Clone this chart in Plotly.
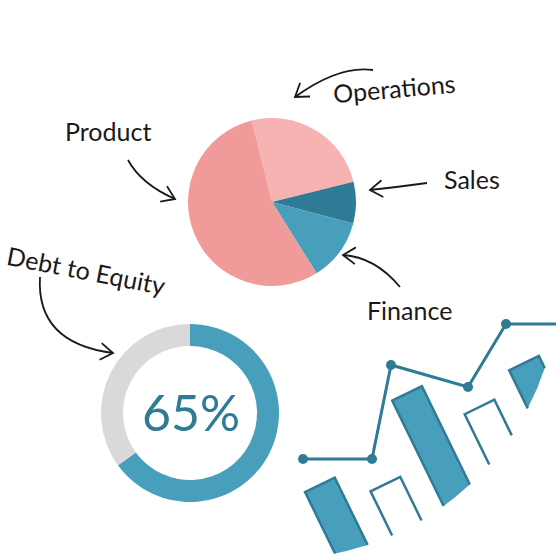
import numpy as np
import plotly.graph_objects as go

# ---------------- data ----------------
pie_labels = ["Operations", "Sales", "Finance", "Product"]
pie_values = [25, 8, 12, 55]
pie_colors = ["#F7B2B2", "#2F7B95", "#479FBB", "#F09B9A"]

donut_labels = ["Debt", "Equity"]
donut_values = [65, 35]
donut_colors = ["#479FBB", "#D9D9D9"]
donut_text = "65%"

line_x = [0, 6.9, 8.8, 16.5, 20.3, 30]
line_y = [0, 0, 9.4, 7.2, 13.5, 13.5]

bar_values = [4.2, 2.8, 6.4, 4.2, 5.2]
bar_filled = [True, False, True, False, True]

DARK = "#2F7B95"
MID = "#479FBB"
INK = "#1a1a1a"
FONT = "Lato"

W = H = 560

fig = go.Figure()

# ---------------- pie ----------------
def dom(cx, cy, r):
    return dict(x=[(cx - r) / W, (cx + r) / W], y=[1 - (cy + r) / H, 1 - (cy - r) / H])

fig.add_trace(go.Pie(
    labels=pie_labels, values=pie_values, sort=False, direction="clockwise",
    rotation=-14, marker=dict(colors=pie_colors, line=dict(width=0)),
    textinfo="none", hoverinfo="label+percent", domain=dom(272, 202, 84),
    showlegend=False))

fig.add_trace(go.Pie(
    labels=donut_labels, values=donut_values, sort=False, direction="clockwise",
    rotation=0, hole=0.753, marker=dict(colors=donut_colors, line=dict(width=0)),
    textinfo="none", hoverinfo="label+percent", domain=dom(190, 413, 89),
    showlegend=False))

# ---------------- line (own axes) ----------------
fig.add_trace(go.Scatter(
    x=line_x, y=line_y, mode="lines", line=dict(color=DARK, width=3),
    xaxis="x", yaxis="y", showlegend=False, hoverinfo="skip"))
fig.add_trace(go.Scatter(
    x=line_x[:-1], y=line_y[:-1], mode="markers",
    marker=dict(color=DARK, size=10), xaxis="x", yaxis="y", showlegend=False))

# ---------------- tilted bars (rotated frame, clipped by circle) ----------------
theta = np.deg2rad(26)
c, s = np.cos(theta), np.sin(theta)
CX, CY, R = 280.0, 280.0, 279.0


def to_px(a, b):
    return (c * a - s * b, -s * a - c * b)


def hit(p):
    d = np.array([s, c])
    p = np.array(p) - np.array([CX, CY])
    A = d @ d
    B = 2 * p @ d
    C = p @ p - R * R
    t = (-B + np.sqrt(B * B - 4 * A * C)) / (2 * A)
    q = p + t * d
    return q[0] + CX, q[1] + CY


for i, (v, filled) in enumerate(zip(bar_values, bar_filled)):
    a0 = 58.5 + 59.2 * i
    a1 = a0 + 33
    b = -660 + 20 * v
    tl = to_px(a0, b)
    tr = to_px(a1, b)
    hl = hit(tl)
    hr = hit(tr)
    if filled:
        phr = np.arctan2(hr[1] - CY, hr[0] - CX)
        phl = np.arctan2(hl[1] - CY, hl[0] - CX)
        ang = np.linspace(phr, phl, 20)
        xs = [tl[0], tr[0], hr[0]] + list(CX + R * np.cos(ang)) + [hl[0], tl[0]]
        ys = [tl[1], tr[1], hr[1]] + list(CY + R * np.sin(ang)) + [hl[1], tl[1]]
        fig.add_trace(go.Scatter(x=xs, y=ys, fill="toself", fillcolor=MID,
                                 mode="lines", line=dict(width=0, color=MID),
                                 xaxis="x2", yaxis="y2", showlegend=False,
                                 hoverinfo="skip"))
    fig.add_trace(go.Scatter(
        x=[hl[0], tl[0], tr[0], hr[0]], y=[hl[1], tl[1], tr[1], hr[1]],
        mode="lines", line=dict(width=2.5, color=DARK),
        xaxis="x2", yaxis="y2", showlegend=False, hoverinfo="skip"))

# ---------------- arrows ----------------
arrows = [
    ((128, 160), (141, 184), (175, 199)),   # Product
    ((373, 70), (339, 65), (295, 97)),      # Operations
    ((427, 183), (398, 187), (370, 190)),   # Sales
    ((400, 287), (375, 257), (343, 255)),   # Finance
    ((40, 277), (36, 343), (113, 353)),     # Debt to Equity
]
shapes = []
for S, Q, E in arrows:
    shapes.append(dict(type="path", xref="x2", yref="y2",
                       path=f"M {S[0]},{S[1]} Q {Q[0]},{Q[1]} {E[0]},{E[1]}",
                       line=dict(color=INK, width=1.8)))
    d = np.array(Q, float) - np.array(E, float)
    d /= np.linalg.norm(d)
    arms = []
    for ang in (np.deg2rad(34), -np.deg2rad(34)):
        rot = np.array([d[0] * np.cos(ang) - d[1] * np.sin(ang),
                        d[0] * np.sin(ang) + d[1] * np.cos(ang)])
        arms.append(np.array(E) + 15 * rot)
    shapes.append(dict(type="path", xref="x2", yref="y2",
                       path=f"M {arms[0][0]:.1f},{arms[0][1]:.1f} L {E[0]},{E[1]} L {arms[1][0]:.1f},{arms[1][1]:.1f}",
                       line=dict(color=INK, width=1.8)))

# ---------------- labels ----------------
labels = [
    ("Product", 108, 131, 0),
    ("Operations", 394, 88, -5),
    ("Sales", 472, 179, 0),
    ("Finance", 409, 310, 0),
    ("Debt to Equity", 86, 270, 11),
]
annotations = []
for t, x, y, a in labels:
    annotations.append(dict(text=t, x=x, y=y, xref="x2", yref="y2", showarrow=False,
                            textangle=a, font=dict(family=FONT, size=25, color=INK),
                            xanchor="center", yanchor="middle"))
annotations.append(dict(text=donut_text, x=191, y=412, xref="x2", yref="y2",
                        showarrow=False, font=dict(family=FONT, size=50, color=DARK),
                        xanchor="center", yanchor="middle"))

fig.update_layout(
    width=W, height=H, margin=dict(l=0, r=0, t=0, b=0),
    paper_bgcolor="white", plot_bgcolor="rgba(0,0,0,0)",
    xaxis=dict(domain=[290 / W, 556 / W], range=[-1.3, 25.3], visible=False),
    yaxis=dict(domain=[0, 260 / H], range=[-10.1, 15.9], visible=False),
    xaxis2=dict(domain=[0, 1], range=[0, W], visible=False, anchor="y2"),
    yaxis2=dict(domain=[0, 1], range=[H, 0], visible=False, anchor="x2"),
    shapes=shapes, annotations=annotations, showlegend=False,
)

fig.write_html("out.html")
